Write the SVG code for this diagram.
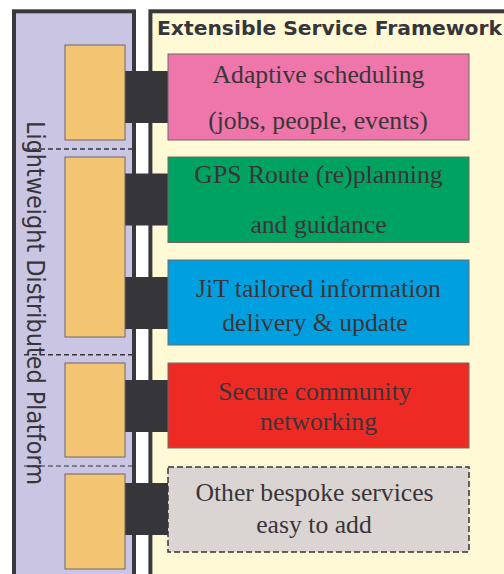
<svg xmlns="http://www.w3.org/2000/svg" width="504" height="574" viewBox="0 0 504 574">
<style>
.panel{stroke:#39383d;stroke-width:4}
.port{fill:#f3c572;stroke:#6b6766;stroke-width:1}
.svc{stroke:#6d6a68;stroke-width:1}
.conn{fill:#363539}
.sep{stroke:#363539;stroke-width:1.5;stroke-dasharray:5 3;fill:none}
.lbl{font-family:"Liberation Serif","Times New Roman",serif;font-size:25.7px;fill:#3a3539;text-anchor:middle}
.title{font-family:"DejaVu Sans",Verdana,sans-serif;font-weight:bold;font-size:20.2px;fill:#363539}
.vert{font-family:"DejaVu Sans",Verdana,sans-serif;font-size:25px;fill:#363539}
</style>
<rect width="504" height="574" fill="#ffffff"/>
<g id="platform">
<rect class="panel" x="14" y="11.3" width="120" height="580" fill="#c9c5e2"/>
<text class="vert" transform="translate(27,121) rotate(90)" textLength="364" lengthAdjust="spacingAndGlyphs">Lightweight Distributed Platform</text>
</g>
<g id="framework">
<rect class="panel" x="150.4" y="11.3" width="380" height="580" fill="#fff9d6"/>
<text class="title" x="157" y="35" textLength="345" lengthAdjust="spacingAndGlyphs">Extensible Service Framework</text>
</g>
<g id="separators">
<line class="sep" x1="24" y1="149" x2="132" y2="149"/>
<line class="sep" x1="24" y1="354.7" x2="132" y2="354.7"/>
<line class="sep" x1="24" y1="466" x2="132" y2="466" style="stroke-width:1"/>
</g>
<g id="connectors">
<rect class="conn" x="125" y="71" width="43" height="52"/>
<rect class="conn" x="125" y="173.5" width="43" height="52"/>
<rect class="conn" x="125" y="277" width="43" height="52"/>
<rect class="conn" x="125" y="380" width="43" height="52"/>
<rect class="conn" x="125" y="483" width="43" height="52"/>
</g>
<g id="port1"><rect class="port" x="65" y="45" width="60" height="95"/></g>
<g id="port2"><rect class="port" x="65" y="157" width="60" height="180"/></g>
<g id="port3"><rect class="port" x="65" y="363" width="60" height="94"/></g>
<g id="port4"><rect class="port" x="65" y="474" width="60" height="95"/></g>
<g id="svc-scheduling">
<rect class="svc" x="168" y="54" width="301" height="86" fill="#ee76aa"/>
<text class="lbl" x="318.5" y="83">Adaptive scheduling</text>
<text class="lbl" x="318" y="129">(jobs, people, events)</text>
</g>
<g id="svc-gps">
<rect class="svc" x="168" y="157" width="301" height="85.5" fill="#00a262"/>
<text class="lbl" x="318.5" y="183.3">GPS Route (re)planning</text>
<text class="lbl" x="318.5" y="233.3">and guidance</text>
</g>
<g id="svc-jit">
<rect class="svc" x="168" y="260" width="301" height="85" fill="#00a0e0"/>
<text class="lbl" x="318.5" y="296.7">JiT tailored information</text>
<text class="lbl" x="315" y="331">delivery &amp; update</text>
</g>
<g id="svc-secure">
<rect class="svc" x="168" y="363" width="301" height="85" fill="#ee2a24"/>
<text class="lbl" x="315" y="400">Secure community</text>
<text class="lbl" x="318.5" y="430">networking</text>
</g>
<g id="svc-other">
<rect x="168" y="467" width="301" height="85" fill="#dad4d2" stroke="#363539" stroke-width="1.5" stroke-dasharray="6 3"/>
<text class="lbl" x="314.5" y="501">Other bespoke services</text>
<text class="lbl" x="314" y="533.3">easy to add</text>
</g>
</svg>
